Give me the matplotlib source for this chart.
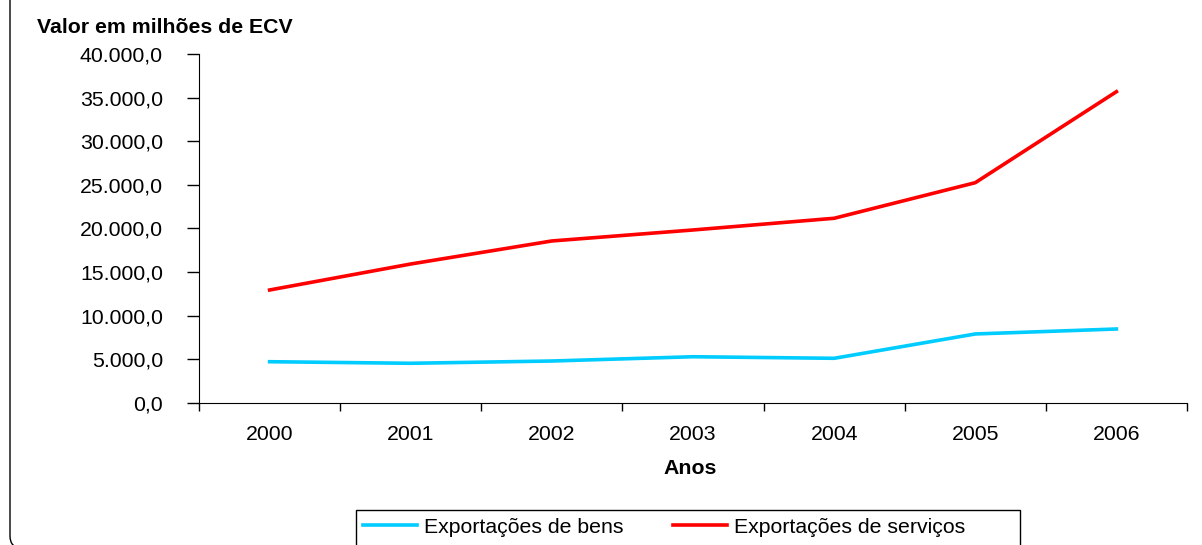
import matplotlib.pyplot as plt
from matplotlib.patches import FancyBboxPatch, Rectangle

anos = ["2000", "2001", "2002", "2003", "2004", "2005", "2006"]
bens = [4730, 4550, 4810, 5300, 5120, 7910, 8480]
servicos = [12950, 15930, 18570, 19830, 21170, 25250, 35680]
yticks = [0, 5000, 10000, 15000, 20000, 25000, 30000, 35000, 40000]

plt.rcParams['font.family'] = ['Liberation Sans', 'DejaVu Sans']

fig = plt.figure(figsize=(12.02, 5.45), dpi=100)
ax = fig.add_axes([0.1656, 0.2606, 0.8219, 0.6403])

x = list(range(len(anos)))
ax.plot(x, bens, color='#00CCFF', lw=2.6, label='Exportações de bens')
ax.plot(x, servicos, color='#FF0000', lw=2.6, label='Exportações de serviços')

ax.set_xlim(-0.5, len(anos) - 0.5)
ax.set_ylim(0, 40000)
ax.set_yticks(yticks)
ax.set_yticklabels(["{:,.1f}".format(v).replace(",", "X").replace(".", ",").replace("X", ".") for v in yticks])
ax.set_xticks([i - 0.5 for i in range(len(anos) + 1)])
ax.set_xticklabels([])
ax.set_xticks(x, minor=True)
ax.set_xticklabels(anos, minor=True)
ax.tick_params(axis='x', which='major', length=6, width=1, direction='out')
ax.tick_params(axis='x', which='minor', length=0, pad=16, labelsize=15.3)
ax.tick_params(axis='y', length=9, width=1, direction='out', labelsize=15.3, pad=17)
ax.spines['top'].set_visible(False)
ax.spines['right'].set_visible(False)

fig.text(0.031, 0.949, "Valor em milhões de ECV", fontsize=15.3, fontweight='bold', ha='left', va='center')
fig.text(0.574, 0.141, "Anos", fontsize=15.3, fontweight='bold', ha='center', va='center')

leg = fig.legend(loc='upper left', bbox_to_anchor=(0.296, 0.064), ncol=2, frameon=False,
                 fontsize=15.3, handlelength=2.55,
                 columnspacing=2.3, borderpad=0.35, handletextpad=0.33, borderaxespad=0)

# legend frame (Excel style, runs off the bottom of the picture)
frame = Rectangle((3.56, -0.2), 6.64, 0.55, transform=fig.dpi_scale_trans,
                  fill=False, edgecolor='black', lw=1)
fig.patches.append(frame)

# rounded chart-area border, partly off canvas
box = FancyBboxPatch((0.10, -0.03), 12.2, 5.8, boxstyle="round,pad=0,rounding_size=0.12",
                     transform=fig.dpi_scale_trans, fill=False, edgecolor='black', lw=1)
fig.patches.append(box)

fig.savefig("out.png", dpi=100)
